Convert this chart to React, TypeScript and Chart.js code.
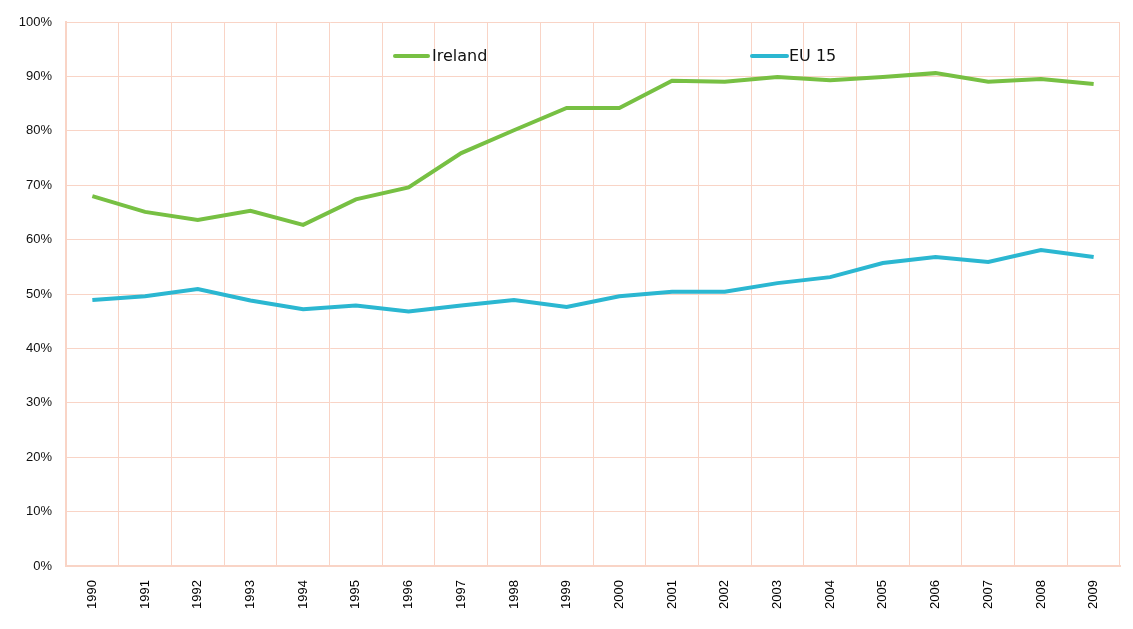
import React, { useEffect, useRef } from "react";
import { Chart, registerables } from "chart.js";

Chart.register(...registerables);

const years = [
  "1990", "1991", "1992", "1993", "1994", "1995", "1996", "1997", "1998", "1999",
  "2000", "2001", "2002", "2003", "2004", "2005", "2006", "2007", "2008", "2009",
];
const ireland = [68.0, 65.1, 63.6, 65.3, 62.7, 67.4, 69.6, 75.9, 80.1, 84.2, 84.2, 89.2, 89.0, 89.9, 89.3, 89.9, 90.6, 89.0, 89.5, 88.6];
const eu15 = [48.9, 49.6, 50.9, 48.8, 47.2, 47.9, 46.8, 47.9, 48.9, 47.6, 49.6, 50.4, 50.4, 52.0, 53.1, 55.7, 56.8, 55.9, 58.1, 56.8];
const seriesNames = ["Ireland", "EU 15"];
const seriesColors = ["#77c043", "#2bb7d1"];

const GRID = "#f9d4c6";

const legendPlugin = {
  id: "customLegend",
  afterDatasetsDraw(chart: any) {
    const ctx = chart.ctx;
    const items = [
      { x0: 395, x1: 428, tx: 432 },
      { x0: 752, x1: 787, tx: 789 },
    ];
    ctx.save();
    chart.data.datasets.forEach((ds: any, i: number) => {
      const it = items[i];
      const y = 56;
      ctx.strokeStyle = ds.borderColor;
      ctx.lineWidth = 4;
      ctx.lineCap = "round";
      ctx.beginPath();
      ctx.moveTo(it.x0, y);
      ctx.lineTo(it.x1, y);
      ctx.stroke();
      ctx.fillStyle = "#111111";
      ctx.font = "16px 'DejaVu Sans', sans-serif";
      ctx.textBaseline = "middle";
      ctx.textAlign = "left";
      ctx.fillText(ds.label, it.tx, y + 1);
    });
    ctx.restore();
  },
};

export default function App() {
  const ref = useRef<HTMLCanvasElement | null>(null);
  useEffect(() => {
    document.body.style.margin = "0";
    const canvas = ref.current!;
    const chart = new Chart(canvas, {
      type: "line",
      data: {
        labels: years,
        datasets: [
          {
            label: seriesNames[0],
            data: ireland,
            borderColor: seriesColors[0],
            backgroundColor: seriesColors[0],
            borderWidth: 4,
            pointRadius: 0,
            tension: 0,
          },
          {
            label: seriesNames[1],
            data: eu15,
            borderColor: seriesColors[1],
            backgroundColor: seriesColors[1],
            borderWidth: 4,
            pointRadius: 0,
            tension: 0,
          },
        ],
      },
      options: {
        animation: false,
        responsive: false,
        layout: { padding: { left: 0, top: 22, right: 13, bottom: 0 } },
        plugins: {
          legend: { display: false },
          tooltip: { enabled: false },
        },
        scales: {
          x: {
            type: "category",
            offset: true,
            grid: { offset: true, color: GRID, lineWidth: 1, drawTicks: false },
            border: { color: GRID, width: 2 },
            ticks: {
              autoSkip: false,
              minRotation: 90,
              maxRotation: 90,
              padding: 14,
              color: "#000000",
              font: { family: "'Liberation Sans Narrow', 'Liberation Sans', sans-serif", size: 13 },
            },
            afterFit: (s: any) => {
              s.height = 63;
            },
          },
          y: {
            min: 0,
            max: 100,
            grid: { color: GRID, lineWidth: 1, drawTicks: false },
            border: { color: GRID, width: 2 },
            ticks: {
              stepSize: 10,
              padding: 14,
              color: "#111111",
              font: { family: "'Liberation Sans', sans-serif", size: 13 },
              callback: (v: any) => v + "%",
            },
            afterFit: (s: any) => {
              s.width = 66;
            },
          },
        },
      },
      plugins: [legendPlugin],
    });
    return () => chart.destroy();
  }, []);
  return (
    <div style={{ position: "absolute", left: 0, top: 0, width: 1133, height: 629, background: "#ffffff" }}>
      <canvas ref={ref} width={1133} height={629} style={{ display: "block" }} />
    </div>
  );
}
